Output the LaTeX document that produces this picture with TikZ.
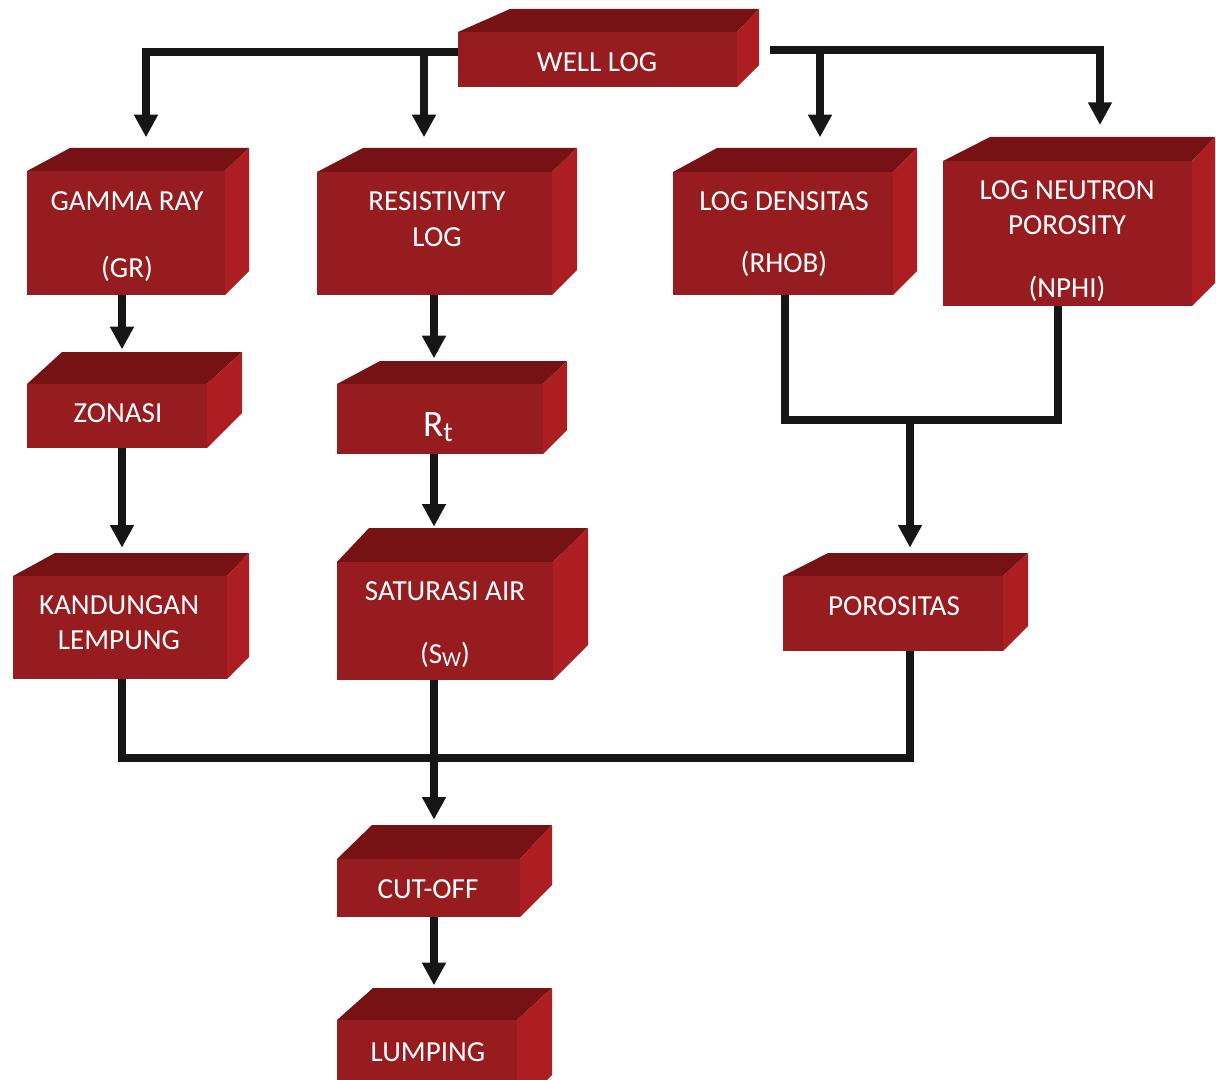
\documentclass[tikz,border=0pt]{standalone}
\usepackage{fontspec}
\setmainfont{Carlito}
\usetikzlibrary{arrows.meta,fit,calc}
\definecolor{cfront}{RGB}{150,28,32}
\definecolor{ctop}{RGB}{118,18,20}
\definecolor{cside}{RGB}{172,30,34}
\definecolor{cline}{RGB}{22,22,22}
\tikzset{
  front/.style={rectangle,inner sep=0pt,outer sep=0pt,fill=cfront},
  topface/.style={fill=ctop},
  sideface/.style={fill=cside},
  txt/.style={text=white,font=\fontsize{21.8}{26}\selectfont,inner sep=0pt,anchor=center},
  ln/.style={draw=cline,line width=5.3pt},
  arr/.style={ln,-{Triangle[length=17pt,width=17pt]}},
}
% name, x0, y0, x1, y1, a, b, h
\newcommand\cubebox[8]{%
  \fill[topface] (#2,#3) -- ++(#6,-#8) -- (#4+#7,#3-#8) -- (#4,#3) -- cycle;
  \fill[sideface] (#4,#3) -- (#4+#7,#3-#8) -- (#4+#7,#5-#7) -- (#4,#5) -- cycle;
  \node[front,fit={(#2,#3)(#4,#5)}] (#1) {};
  \coordinate (#1-t) at ({(#2+#4)/2},#3-#8);
}
\begin{document}
\begin{tikzpicture}[x=0.75pt,y=-0.75pt]
\useasboundingbox (0,0) rectangle (1216,1080);
\fill[white] (0,0) rectangle (1216,1080);

% bend / column coordinates
\coordinate (c1) at (146,52);
\coordinate (c2) at (424,52);
\coordinate (c3) at (1100,50);
\coordinate (c4) at (820,50);
\coordinate (xa) at (122,0);
\coordinate (xb) at (434,0);
\coordinate (xc) at (785,0);
\coordinate (xd) at (1058,0);
\coordinate (xe) at (910,0);
\coordinate (ya) at (0,420);
\coordinate (yb) at (0,758);

% boxes
\cubebox{wl}{458}{32}{737}{87}{52}{22}{23}
\cubebox{gr}{27}{171}{225}{295}{43}{24}{23}
\cubebox{res}{317}{172}{552}{295}{46}{25}{24}
\cubebox{dens}{673}{172}{893}{295}{44}{24}{24}
\cubebox{nphi}{943}{161}{1192}{306}{47}{23}{24}
\cubebox{zon}{27}{384}{207}{448}{35}{35}{32}
\cubebox{rt}{337}{384}{543}{454}{43}{24}{23}
\cubebox{kand}{13}{576}{227}{679}{42}{22}{23}
\cubebox{sat}{337}{562}{553}{680}{32}{35}{34}
\cubebox{por}{783}{576}{1003}{651}{45}{25}{23}
\cubebox{cut}{337}{859}{520}{917}{35}{32}{34}
\cubebox{lump}{337}{1020}{517}{1110}{36}{35}{32}

% connectors
\draw[arr,shorten >=8pt] (wl.west |- c1) -- (c1) -- (c1 |- gr-t);
\draw[arr,shorten >=8pt] (c2) -- (c2 |- res-t);
\draw[arr,shorten >=9pt] ([xshift=25pt]wl.east |- c3) -- (c3) -- (c3 |- nphi-t);
\draw[arr,shorten >=8pt] (c4) -- (c4 |- dens-t);
\draw[arr,shorten >=2pt] (gr.south -| xa) -- (xa |- zon-t);
\draw[arr,shorten >=4pt] (zon.south -| xa) -- (xa |- kand-t);
\draw[arr,shorten >=2pt] (res.south -| xb) -- (xb |- rt-t);
\draw[arr,shorten >=1pt] (rt.south -| xb) -- (xb |- sat-t);
\draw[ln] (dens.south -| xc) -- (xc |- ya) -- (xd |- ya) -- (nphi.south -| xd);
\draw[arr,shorten >=4pt] (xe |- ya) -- (xe |- por-t);
\draw[ln] (kand.south -| xa) -- (xa |- yb) -- (xe |- yb) -- (por.south -| xe);
\draw[arr,shorten >=4pt] (sat.south -| xb) -- (xb |- cut-t);
\draw[arr,shorten >=2pt] (cut.south -| xb) -- (xb |- lump-t);

% labels
\node[txt] (t-wl) at (597,62) {WELL LOG};
\node[txt] (t-gr1) at (127,201) {GAMMA RAY};
\node[txt] (t-gr2) at (127,269) {(GR)};
\node[txt] (t-res1) at (437,201) {RESISTIVITY};
\node[txt] (t-res2) at (437,237) {LOG};
\node[txt] (t-dens1) at (784,201) {LOG DENSITAS};
\node[txt] (t-dens2) at (784,264) {(RHOB)};
\node[txt] (t-nphi1) at (1067,190) {LOG NEUTRON};
\node[txt] (t-nphi2) at (1067,225) {POROSITY};
\node[txt] (t-nphi3) at (1067,289) {(NPHI)};
\node[txt] (t-zon) at (118,413) {ZONASI};
\node[txt,anchor=base] (t-rt) at (438,436) {\fontsize{28}{32}\selectfont R\raisebox{-0.3ex}{\fontsize{21}{24}\selectfont t}};
\node[txt] (t-kand1) at (119,605) {KANDUNGAN};
\node[txt] (t-kand2) at (119,640) {LEMPUNG};
\node[txt] (t-sat1) at (445,591) {SATURASI AIR};
\node[txt] (t-sat2) at (445,655) {(S\raisebox{-0.2ex}{\fontsize{16}{18}\selectfont W})};
\node[txt] (t-por) at (894,606) {POROSITAS};
\node[txt] (t-cut) at (428,889) {CUT-OFF};
\node[txt] (t-lump) at (428,1052) {LUMPING};
\end{tikzpicture}
\end{document}
